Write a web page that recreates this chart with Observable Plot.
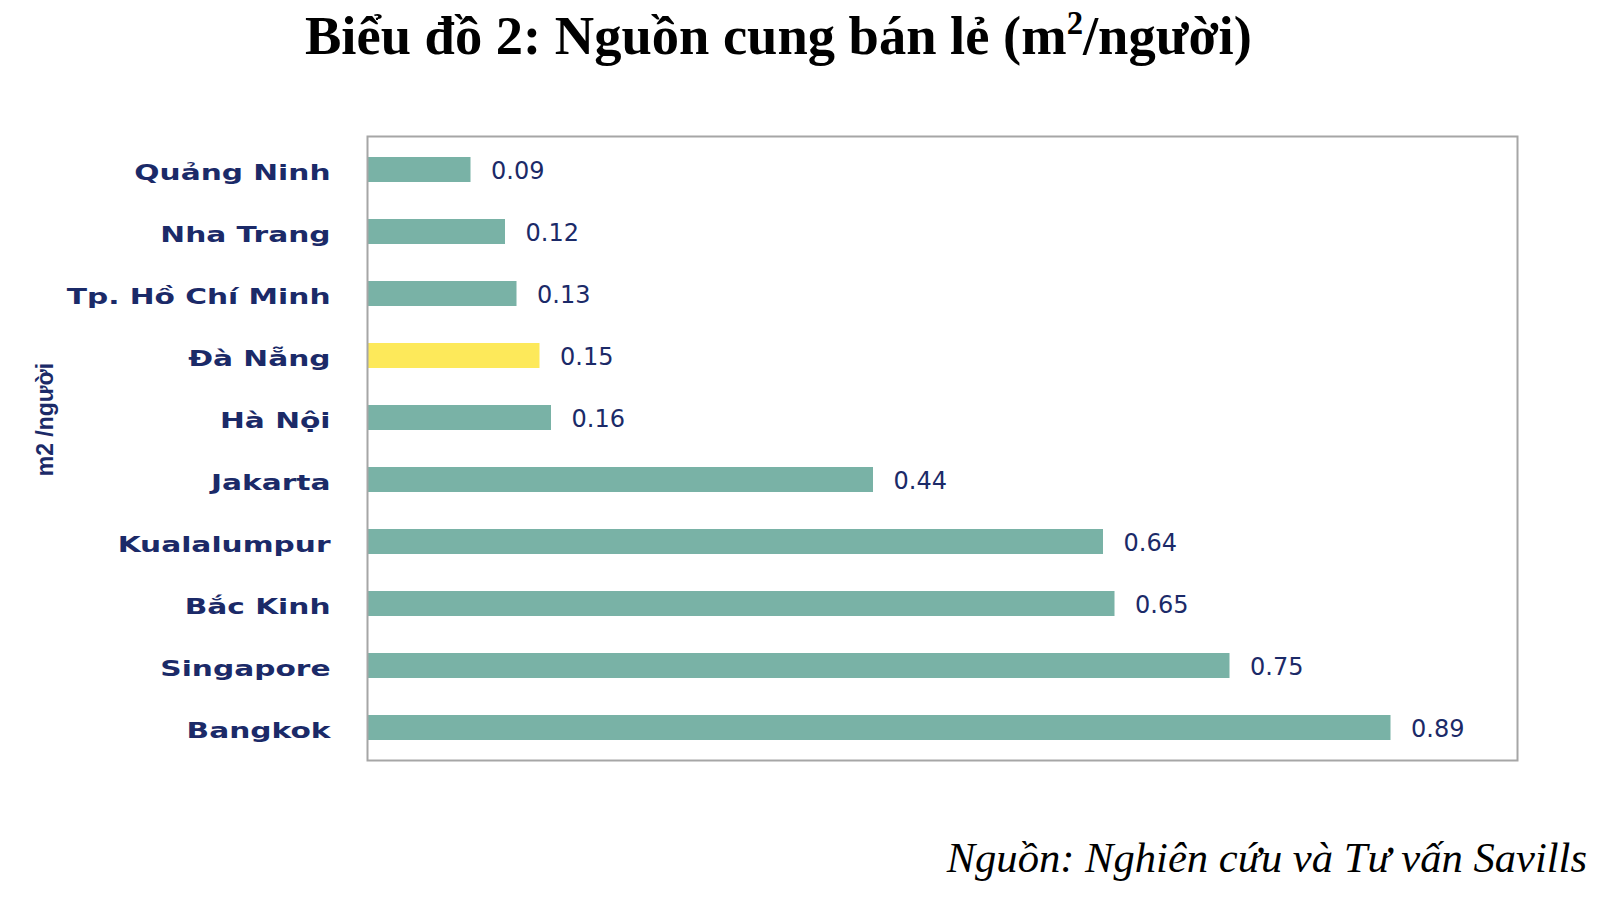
<!DOCTYPE html>
<html>
<head>
<meta charset="utf-8">
<script src="https://cdn.jsdelivr.net/npm/d3@7"></script>
<script src="https://cdn.jsdelivr.net/npm/@observablehq/plot@0.6"></script>
<style>
  html, body { margin: 0; padding: 0; background: #ffffff; width: 1600px; height: 899px; overflow: hidden; }
  #title { position: absolute; left: 305px; top: 9px; white-space: nowrap;
    font-family: "Liberation Serif", "Times New Roman", serif; font-weight: bold; font-size: 54.5px; line-height: 54px; color: #000; }
  #title sup { font-size: 0.6em; vertical-align: 0.6em; line-height: 0; }
  #chart { position: absolute; left: 0; top: 80px; }
  #caption { position: absolute; right: 13px; top: 837px; white-space: nowrap;
    font-family: "Liberation Serif", "Times New Roman", serif; font-style: italic; font-size: 42.6px; line-height: 42px; color: #000; }
</style>
</head>
<body>
<div id="title">Biểu đồ 2: Nguồn cung bán lẻ (m<sup>2</sup>/người)</div>
<div id="chart"></div>
<div id="caption">Nguồn: Nghiên cứu và Tư vấn Savills</div>
<script>
const cities = ["Quảng Ninh", "Nha Trang", "Tp. Hồ Chí Minh", "Đà Nẵng", "Hà Nội", "Jakarta", "Kualalumpur", "Bắc Kinh", "Singapore", "Bangkok"];
const values = [0.09, 0.12, 0.13, 0.15, 0.16, 0.44, 0.64, 0.65, 0.75, 0.89];
const highlighted = ["Đà Nẵng"];
const axisTitle = "m2 /người";

const data = cities.map((c, i) => ({city: c, value: values[i]}));

const teal = "#79b2a6";
const yellow = "#fde95a";
const navy = "#1b2a68";

const chart = Plot.plot({
  width: 1600,
  height: 720,
  marginTop: 56,
  marginBottom: 40,
  marginLeft: 367,
  marginRight: 83,
  style: {background: "transparent", fontFamily: "DejaVu Sans, Verdana, sans-serif"},
  x: {domain: [0, 1], axis: null},
  y: {domain: cities, paddingInner: 0.6, paddingOuter: 0.29, label: null},
  marks: [
    Plot.barX(data, {x: "value", y: "city", fill: d => highlighted.includes(d.city) ? yellow : teal}),
    Plot.text(data, {x: "value", y: "city", text: d => d.value.toFixed(2), dx: 20, dy: 1, textAnchor: "start",
      fill: navy, fontSize: 24, fontFamily: "DejaVu Sans, Verdana, sans-serif"}),
    Plot.axisY({tickSize: 0, tickPadding: 37, fontSize: 21.5, fontWeight: "bold", fill: navy, dy: 3, label: null}),
    Plot.text([axisTitle], {text: d => d, frameAnchor: "left", textAnchor: "middle", dx: -322, dy: -29, rotate: -90,
      fill: navy, fontSize: 23, fontWeight: "bold", fontFamily: "Liberation Sans, Arial, sans-serif"}),
    Plot.frame({stroke: "#a6a6a6", strokeWidth: 2})
  ]
});
document.getElementById("chart").appendChild(chart);

// widen the category labels horizontally about their right-hand anchor, as in the reference
chart.querySelectorAll('g[aria-label="y-axis tick label"] text').forEach(t => {
  const tr = t.getAttribute("transform") || "";
  t.setAttribute("transform", `${tr} scale(1.38,1)`);
});
</script>
</body>
</html>
